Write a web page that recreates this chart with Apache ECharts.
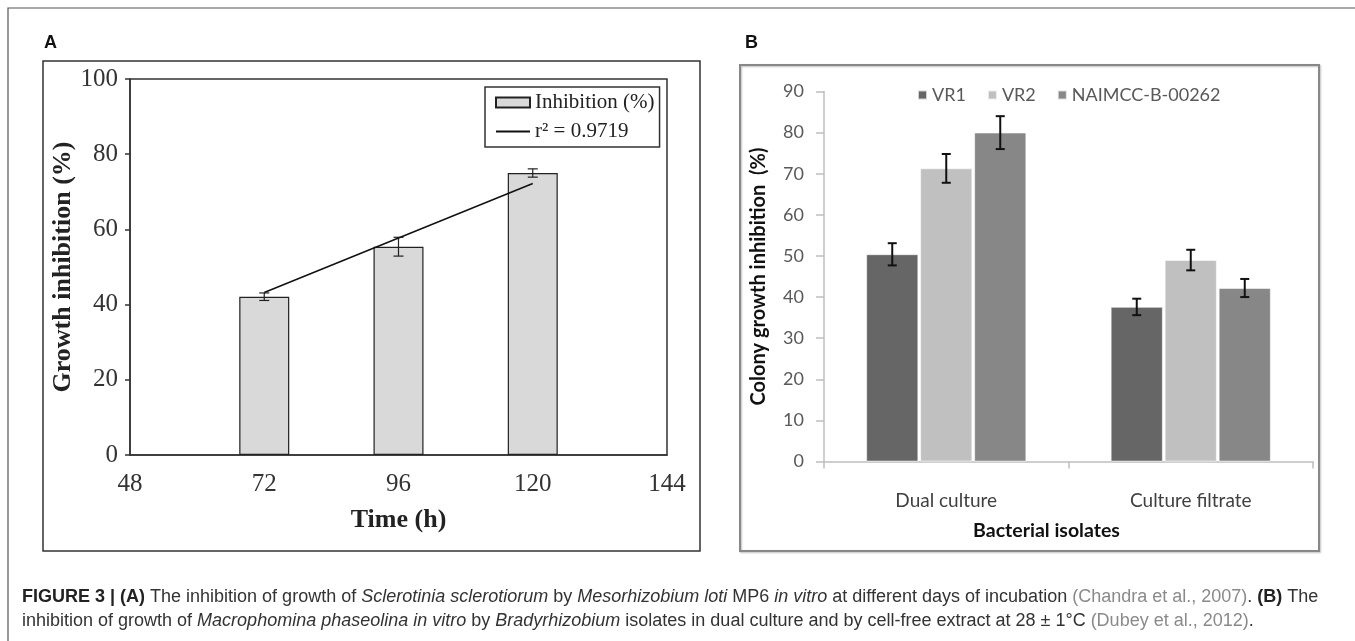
<!DOCTYPE html>
<html>
<head>
<meta charset="utf-8">
<script src="https://cdn.jsdelivr.net/npm/echarts@6/dist/echarts.min.js"></script>
<style>
html,body{margin:0;padding:0;background:#fff;}
#chart{width:1355px;height:641px;}
</style>
</head>
<body>
<div id="chart"></div>
<script>
// ---- Panel A data ----
const timeA = [72, 96, 120];
const inhibA = [42.1, 55.4, 75.0];
const errA = [1.0, 2.5, 1.1];
const trendX = [72, 120];
const trendY = [43.2, 72.2];
const trendName = 'r\u00B2 = 0.9719';
const barNameA = 'Inhibition (%)';

// ---- Panel B data ----
const catB = ['Dual culture', 'Culture filtrate'];
const namesB = ['VR1', 'VR2', 'NAIMCC-B-00262'];
const vr1 = [50.4, 37.6];
const vr1Err = [2.7, 2.0];
const vr2 = [71.3, 49.0];
const vr2Err = [3.5, 2.5];
const naimcc = [80.0, 42.2];
const naimccErr = [4.0, 2.2];

const serif = '"Liberation Serif","Times New Roman",serif';
const sans = 'Lato, "Open Sans", sans-serif';
const capSans = '"Liberation Sans", Arial, sans-serif';

const chart = echarts.init(document.getElementById('chart'));

function errRendererA(params, api) {
  const x = api.value(0), lo = api.value(1), hi = api.value(2);
  const p1 = api.coord([x, hi]), p2 = api.coord([x, lo]);
  const w = 5;
  const st = {stroke: '#222', lineWidth: 1.2};
  return {type: 'group', children: [
    {type: 'line', shape: {x1: p1[0], y1: p1[1], x2: p2[0], y2: p2[1]}, style: st},
    {type: 'line', shape: {x1: p1[0] - w, y1: p1[1], x2: p1[0] + w, y2: p1[1]}, style: st},
    {type: 'line', shape: {x1: p2[0] - w, y1: p2[1], x2: p2[0] + w, y2: p2[1]}, style: st}
  ]};
}

const barWB = 52, gapB = 2;
function errRendererB(seriesPos) {
  return function (params, api) {
    const c = api.value(0), lo = api.value(1), hi = api.value(2);
    const p1 = api.coord([c, hi]), p2 = api.coord([c, lo]);
    const off = (seriesPos - 1) * (barWB + gapB);
    const x = p1[0] + off;
    const w = 4.5;
    const st = {stroke: '#111', lineWidth: 2};
    return {type: 'group', children: [
      {type: 'line', shape: {x1: x, y1: p1[1], x2: x, y2: p2[1]}, style: st},
      {type: 'line', shape: {x1: x - w, y1: p1[1], x2: x + w, y2: p1[1]}, style: st},
      {type: 'line', shape: {x1: x - w, y1: p2[1], x2: x + w, y2: p2[1]}, style: st}
    ]};
  };
}

const valsB = [vr1, vr2, naimcc];
const errsB = [vr1Err, vr2Err, naimccErr];
const colorsB = ['#666666', '#c0c0c0', '#878787'];

const seriesB = [];
valsB.forEach((vals, s) => {
  seriesB.push({
    type: 'bar', name: namesB[s], xAxisIndex: 1, yAxisIndex: 1,
    data: vals, barWidth: barWB, barGap: (gapB / barWB * 100) + '%',
    itemStyle: {color: colorsB[s], borderColor: 'rgba(255,255,255,0.7)', borderWidth: 0.8},
    emphasis: {disabled: true}
  });
});
valsB.forEach((vals, s) => {
  seriesB.push({
    type: 'custom', name: namesB[s] + ' err', xAxisIndex: 1, yAxisIndex: 1,
    renderItem: errRendererB(s),
    encode: {x: 0, y: [1, 2]},
    data: vals.map((v, i) => [i, v - errsB[s][i], v + errsB[s][i]]),
    z: 5, silent: true
  });
});

const capColor = '#333';
const gray = '#8a8a8a';
const capSize = 18;
const line1 = '{b|FIGURE 3 | (A)}{n| The inhibition of growth of }{i|Sclerotinia sclerotiorum}{n| by }{i|Mesorhizobium loti}{n| MP6 }{i|in vitro}{n| at different days of incubation }{g|(Chandra et al., 2007)}{n|. }{b|(B)}{n| The}';
const line2 = '{n|inhibition of growth of }{i|Macrophomina phaseolina in vitro}{n| by }{i|Bradyrhizobium}{n| isolates in dual culture and by cell-free extract at 28 \u00B1 1\u00B0C }{g|(Dubey et al., 2012)}{n|.}';
const richCap = {
  b: {fontFamily: capSans, fontSize: capSize, fontWeight: 'bold', fill: '#222'},
  n: {fontFamily: capSans, fontSize: capSize, fill: capColor},
  i: {fontFamily: capSans, fontSize: capSize, fontStyle: 'italic', fill: capColor},
  g: {fontFamily: capSans, fontSize: capSize, fill: gray}
};

const option = {
  animation: false,
  backgroundColor: '#fff',
  graphic: [
    {type: 'rect', shape: {x: 8, y: 8, width: 1400, height: 700}, style: {fill: 'none', stroke: '#555', lineWidth: 1.2}, z: -1},
    {type: 'rect', shape: {x: 43, y: 61, width: 657, height: 490}, style: {fill: 'none', stroke: '#333', lineWidth: 1.5}, z: -1},
    {type: 'rect', shape: {x: 740, y: 65, width: 579, height: 486}, style: {fill: 'none', stroke: '#888', lineWidth: 2, shadowBlur: 2, shadowColor: 'rgba(0,0,0,0.25)', shadowOffsetX: 1, shadowOffsetY: 1}, z: -1},
    {type: 'text', left: 44, top: 34, style: {text: 'A', fontFamily: capSans, fontWeight: 'bold', fontSize: 18, fill: '#111'}},
    {type: 'text', left: 745, top: 34, style: {text: 'B', fontFamily: capSans, fontWeight: 'bold', fontSize: 18, fill: '#111'}},
    {type: 'text', x: 22, y: 597, style: {text: line1, rich: richCap, verticalAlign: 'middle'}},
    {type: 'text', x: 22, y: 621, style: {text: line2, rich: richCap, verticalAlign: 'middle'}}
  ],
  legend: [
    {
      data: [{name: barNameA, icon: 'rect'}, {name: trendName, itemStyle: {opacity: 0}}],
      orient: 'vertical', left: 485, top: 87,
      borderColor: '#333', borderWidth: 1.5,
      padding: [5, 5, 5, 10], itemGap: 8,
      itemWidth: 34, itemHeight: 10,
      textStyle: {fontFamily: serif, fontSize: 21, color: '#222'},
      selectedMode: false
    },
    {
      data: namesB, orient: 'horizontal', left: 912, top: 81,
      itemWidth: 9, itemHeight: 9, itemGap: 21, icon: 'rect',
      textStyle: {fontFamily: sans, fontSize: 18, color: '#595959'},
      selectedMode: false
    }
  ],
  grid: [
    {left: 130, top: 79, width: 537, height: 376, show: true, borderColor: '#333', borderWidth: 1.5, backgroundColor: 'transparent', containLabel: false},
    {left: 824, top: 91.5, width: 489, height: 370, containLabel: false}
  ],
  xAxis: [
    {
      gridIndex: 0, type: 'value', min: 48, max: 144, interval: 24,
      name: 'Time (h)', nameLocation: 'middle', nameGap: 52,
      nameTextStyle: {fontFamily: serif, fontSize: 26, fontWeight: 'bold', color: '#222'},
      axisLine: {show: true, lineStyle: {color: '#333', width: 1.5}},
      axisTick: {show: false},
      axisLabel: {fontFamily: serif, fontSize: 25, color: '#333', margin: 17},
      splitLine: {show: false}
    },
    {
      gridIndex: 1, type: 'category', data: catB, boundaryGap: true,
      name: 'Bacterial isolates', nameLocation: 'middle', nameGap: 59,
      nameTextStyle: {fontFamily: sans, fontSize: 19.5, fontWeight: 'bold', color: '#111', padding: [0, 44, 0, 0]},
      axisLine: {show: true, lineStyle: {color: '#bfbfbf', width: 1.5}},
      axisTick: {show: true, length: 7, lineStyle: {color: '#bfbfbf', width: 1.5}},
      axisLabel: {fontFamily: sans, fontSize: 19, color: '#404040', margin: 30},
      splitLine: {show: false}
    }
  ],
  yAxis: [
    {
      gridIndex: 0, type: 'value', min: 0, max: 100, interval: 20,
      name: 'Growth inhibition (%)', nameLocation: 'middle', nameGap: 51,
      nameTextStyle: {fontFamily: serif, fontSize: 26, fontWeight: 'bold', color: '#222'},
      axisLine: {show: true, lineStyle: {color: '#333', width: 1.5}},
      axisTick: {show: true, length: 5, inside: false, lineStyle: {color: '#333', width: 1.5}},
      axisLabel: {fontFamily: serif, fontSize: 25, color: '#333', margin: 12},
      splitLine: {show: false}
    },
    {
      gridIndex: 1, type: 'value', min: 0, max: 90, interval: 10,
      name: 'Colony growth inhibition  (%)', nameLocation: 'middle', nameGap: 55,
      nameTextStyle: {fontFamily: sans, fontSize: 20, fontWeight: 'bold', color: '#111'},
      axisLine: {show: true, lineStyle: {color: '#bfbfbf', width: 1.5}},
      axisTick: {show: true, length: 8, lineStyle: {color: '#bfbfbf', width: 1.5}},
      axisLabel: {fontFamily: sans, fontSize: 18, color: '#595959', margin: 20},
      splitLine: {show: false}
    }
  ],
  series: [
    {
      type: 'bar', name: barNameA, xAxisIndex: 0, yAxisIndex: 0,
      data: timeA.map((t, i) => [t, inhibA[i]]), barWidth: 50,
      itemStyle: {color: '#d9d9d9', borderColor: '#222', borderWidth: 1.2},
      emphasis: {disabled: true}
    },
    {
      type: 'custom', name: 'errA', xAxisIndex: 0, yAxisIndex: 0,
      renderItem: errRendererA, encode: {x: 0, y: [1, 2]},
      data: timeA.map((t, i) => [t, inhibA[i] - errA[i], inhibA[i] + errA[i]]),
      z: 5, silent: true
    },
    {
      type: 'line', name: trendName, xAxisIndex: 0, yAxisIndex: 0,
      data: trendX.map((t, i) => [t, trendY[i]]),
      symbol: 'none', itemStyle: {color: '#111'},
      lineStyle: {color: '#111', width: 1.5}, z: 6,
      emphasis: {disabled: true}
    }
  ].concat(seriesB)
};
chart.setOption(option);
</script>
</body>
</html>
